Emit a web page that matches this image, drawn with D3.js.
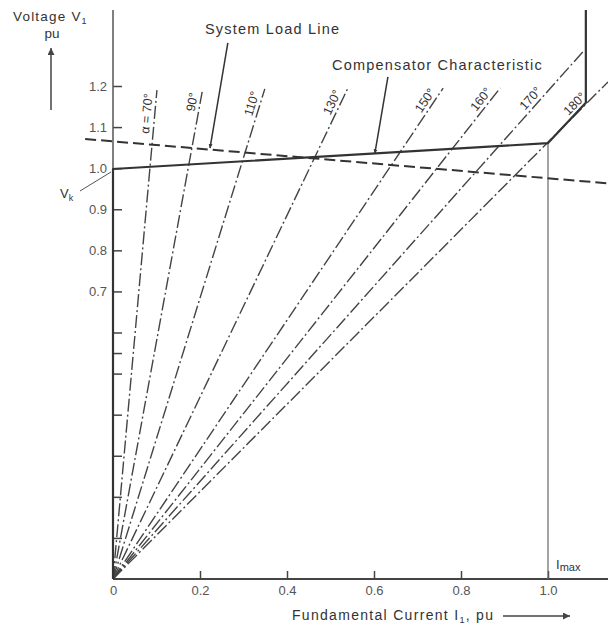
<!DOCTYPE html>
<html>
<head>
<meta charset="utf-8">
<script src="https://cdn.jsdelivr.net/npm/d3@7"></script>
<style>
  body { margin: 0; background: #fff; }
  svg { display: block; font-family: "Liberation Sans", Arial, sans-serif; fill: #333; }
</style>
</head>
<body>
<svg id="chart"></svg>
<script>
const width = 608;
const height = 629;

// firing angle lines: label, and the far end of each line (current, voltage)
const angleLabels = ["α = 70°", "90°", "110°", "130°", "150°", "160°", "170°", "180°"];
const angleEndI = [0.101, 0.205, 0.349, 0.540, 0.759, 0.890, 1.080, 1.138];
const angleEndV = [1.190, 1.186, 1.193, 1.195, 1.195, 1.195, 1.283, 1.210];

// compensator characteristic
const compI = [0, 0, 1.0, 1.087, 1.087];
const compV = [0, 0.998, 1.061, 1.159, 1.385];

// system load line
const loadI = [-0.064, 1.138];
const loadV = [1.071, 0.963];

const xTicks = [0, 0.2, 0.4, 0.6, 0.8, 1.0];
const yTicks = [0.1, 0.2, 0.3, 0.4, 0.5, 0.55, 0.6, 0.7, 0.8, 0.9, 1.0, 1.1, 1.2];
const yLabelled = [0.7, 0.8, 0.9, 1.0, 1.1, 1.2];
const iMax = 1.0;

const svg = d3.select("#chart")
  .attr("width", width)
  .attr("height", height);

const x = d3.scaleLinear().domain([0, 1]).range([113, 548]);
const y = d3.scaleLinear().domain([0, 1.2]).range([579, 86]);

const defs = svg.append("defs");
defs.append("marker")
  .attr("id", "head")
  .attr("viewBox", "0 0 10 10")
  .attr("refX", 10).attr("refY", 5)
  .attr("markerWidth", 4).attr("markerHeight", 7)
  .attr("markerUnits", "userSpaceOnUse")
  .attr("orient", "auto")
  .append("path").attr("d", "M0,0 L10,5 L0,10 Z").attr("fill", "#333");
defs.append("marker")
  .attr("id", "bighead")
  .attr("viewBox", "0 0 10 10")
  .attr("refX", 10).attr("refY", 5)
  .attr("markerWidth", 12).attr("markerHeight", 7)
  .attr("markerUnits", "userSpaceOnUse")
  .attr("orient", "auto")
  .append("path").attr("d", "M0,0 L10,5 L0,10 Z").attr("fill", "#444");

// axes
const xAxis = d3.axisBottom(x)
  .tickValues(xTicks)
  .tickSizeInner(-8)
  .tickSizeOuter(0)
  .tickPadding(7)
  .tickFormat(d => d === 0 ? "0" : d3.format(".1f")(d));

const yAxis = d3.axisLeft(y)
  .tickValues(yTicks)
  .tickSizeInner(-9)
  .tickSizeOuter(0)
  .tickPadding(6)
  .tickFormat(d => yLabelled.includes(d) ? d3.format(".1f")(d) : "");

const gx = svg.append("g")
  .attr("transform", `translate(0, ${y(0)})`)
  .call(xAxis);
const gy = svg.append("g")
  .attr("transform", `translate(${x(0)}, 0)`)
  .call(yAxis);

[gx, gy].forEach(g => {
  g.select(".domain").remove();
  g.selectAll("line").attr("stroke", "#444").attr("stroke-width", 1.5);
  g.selectAll("text")
    .attr("fill", "#555")
    .style("font-size", "13px")
    .style("font-family", "Liberation Sans, Arial, sans-serif");
});

svg.append("line")
  .attr("x1", x(0)).attr("y1", y(0))
  .attr("x2", width).attr("y2", y(0))
  .attr("stroke", "#444").attr("stroke-width", 2);
svg.append("line")
  .attr("x1", x(0)).attr("y1", y(0))
  .attr("x2", x(0)).attr("y2", y(1.385))
  .attr("stroke", "#555").attr("stroke-width", 1.5);

// Imax drop line
svg.append("line")
  .attr("x1", x(iMax)).attr("y1", y(0))
  .attr("x2", x(iMax)).attr("y2", y(1.061))
  .attr("stroke", "#666").attr("stroke-width", 1.2);

// firing angle lines
const angles = angleLabels.map((label, i) => ({ label, I: angleEndI[i], V: angleEndV[i] }));

svg.selectAll(".angle")
  .data(angles)
  .join("line")
  .attr("class", "angle")
  .attr("x1", x(0)).attr("y1", y(0))
  .attr("x2", d => x(d.I)).attr("y2", d => y(d.V))
  .attr("stroke", "#444")
  .attr("stroke-width", 1.4)
  .attr("stroke-dasharray", "13,3,2,3");

svg.selectAll(".angle-label")
  .data(angles)
  .join("text")
  .attr("class", "angle-label")
  .attr("transform", d => {
    const dx = x(d.I) - x(0);
    const dy = y(d.V) - y(0);
    const vAt = d.label === "180°" ? 1.165 : 1.18;
    const px = x(0) + dx * (vAt / d.V);
    const py = y(vAt);
    const ang = Math.atan2(dy, dx) * 180 / Math.PI;
    return `translate(${px},${py}) rotate(${ang})`;
  })
  .attr("y", -4)
  .attr("text-anchor", "end")
  .attr("fill", "#333")
  .style("font-size", "12.5px")
  .text(d => d.label);

// load line
const lineGen = d3.line().x(d => x(d[0])).y(d => y(d[1]));

svg.append("path")
  .datum(loadI.map((v, i) => [v, loadV[i]]))
  .attr("d", lineGen)
  .attr("fill", "none")
  .attr("stroke", "#333")
  .attr("stroke-width", 2)
  .attr("stroke-dasharray", "11,5");

// compensator characteristic
svg.append("path")
  .datum(compI.map((v, i) => [v, compV[i]]))
  .attr("d", lineGen)
  .attr("fill", "none")
  .attr("stroke", "#333")
  .attr("stroke-width", 2.2)
  .attr("stroke-linejoin", "round");

// annotations
svg.append("text")
  .attr("x", 205).attr("y", 34)
  .style("font-size", "14.5px")
  .style("letter-spacing", "1.2px")
  .text("System Load Line");
svg.append("line")
  .attr("x1", x(0.264)).attr("y1", y(1.305))
  .attr("x2", x(0.223)).attr("y2", y(1.049))
  .attr("stroke", "#333").attr("stroke-width", 1.5)
  .attr("marker-end", "url(#head)");

svg.append("text")
  .attr("x", 332).attr("y", 70)
  .style("font-size", "14.5px")
  .style("letter-spacing", "1.2px")
  .text("Compensator Characteristic");
svg.append("line")
  .attr("x1", x(0.632)).attr("y1", y(1.222))
  .attr("x2", x(0.602)).attr("y2", y(1.036))
  .attr("stroke", "#333").attr("stroke-width", 1.5)
  .attr("marker-end", "url(#head)");

// Vk
const vk = svg.append("text").attr("x", 60).attr("y", 198).style("font-size", "13px");
vk.append("tspan").text("V");
vk.append("tspan").attr("dy", 3).style("font-size", "9px").text("k");
svg.append("line")
  .attr("x1", 80).attr("y1", 191)
  .attr("x2", x(0) - 2).attr("y2", y(0.998) + 3)
  .attr("stroke", "#555").attr("stroke-width", 1);

// Imax
const im = svg.append("text").attr("x", 556).attr("y", 569).style("font-size", "13px");
im.append("tspan").text("I");
im.append("tspan").attr("dy", 2).style("font-size", "11px").text("max");

// y-axis title
const vt = svg.append("text").attr("x", 13).attr("y", 21)
  .style("font-size", "13.5px").style("letter-spacing", "1.2px");
vt.append("tspan").text("Voltage V");
vt.append("tspan").attr("dy", 3).style("font-size", "9px").text("1");
svg.append("text")
  .attr("x", 52).attr("y", 38)
  .attr("text-anchor", "middle")
  .style("font-size", "13.5px")
  .text("pu");
svg.append("line")
  .attr("x1", 51).attr("y1", 110)
  .attr("x2", 51).attr("y2", 48)
  .attr("stroke", "#444").attr("stroke-width", 1.5)
  .attr("marker-end", "url(#bighead)");

// x-axis title
const xt = svg.append("text").attr("x", 292).attr("y", 620)
  .style("font-size", "14px").style("letter-spacing", "1.3px");
xt.append("tspan").text("Fundamental Current I");
xt.append("tspan").attr("dy", 3).style("font-size", "9px").text("1");
xt.append("tspan").attr("dy", -3).text(", pu");
svg.append("line")
  .attr("x1", 503).attr("y1", 616)
  .attr("x2", 570).attr("y2", 616)
  .attr("stroke", "#444").attr("stroke-width", 1.5)
  .attr("marker-end", "url(#bighead)");
</script>
</body>
</html>
